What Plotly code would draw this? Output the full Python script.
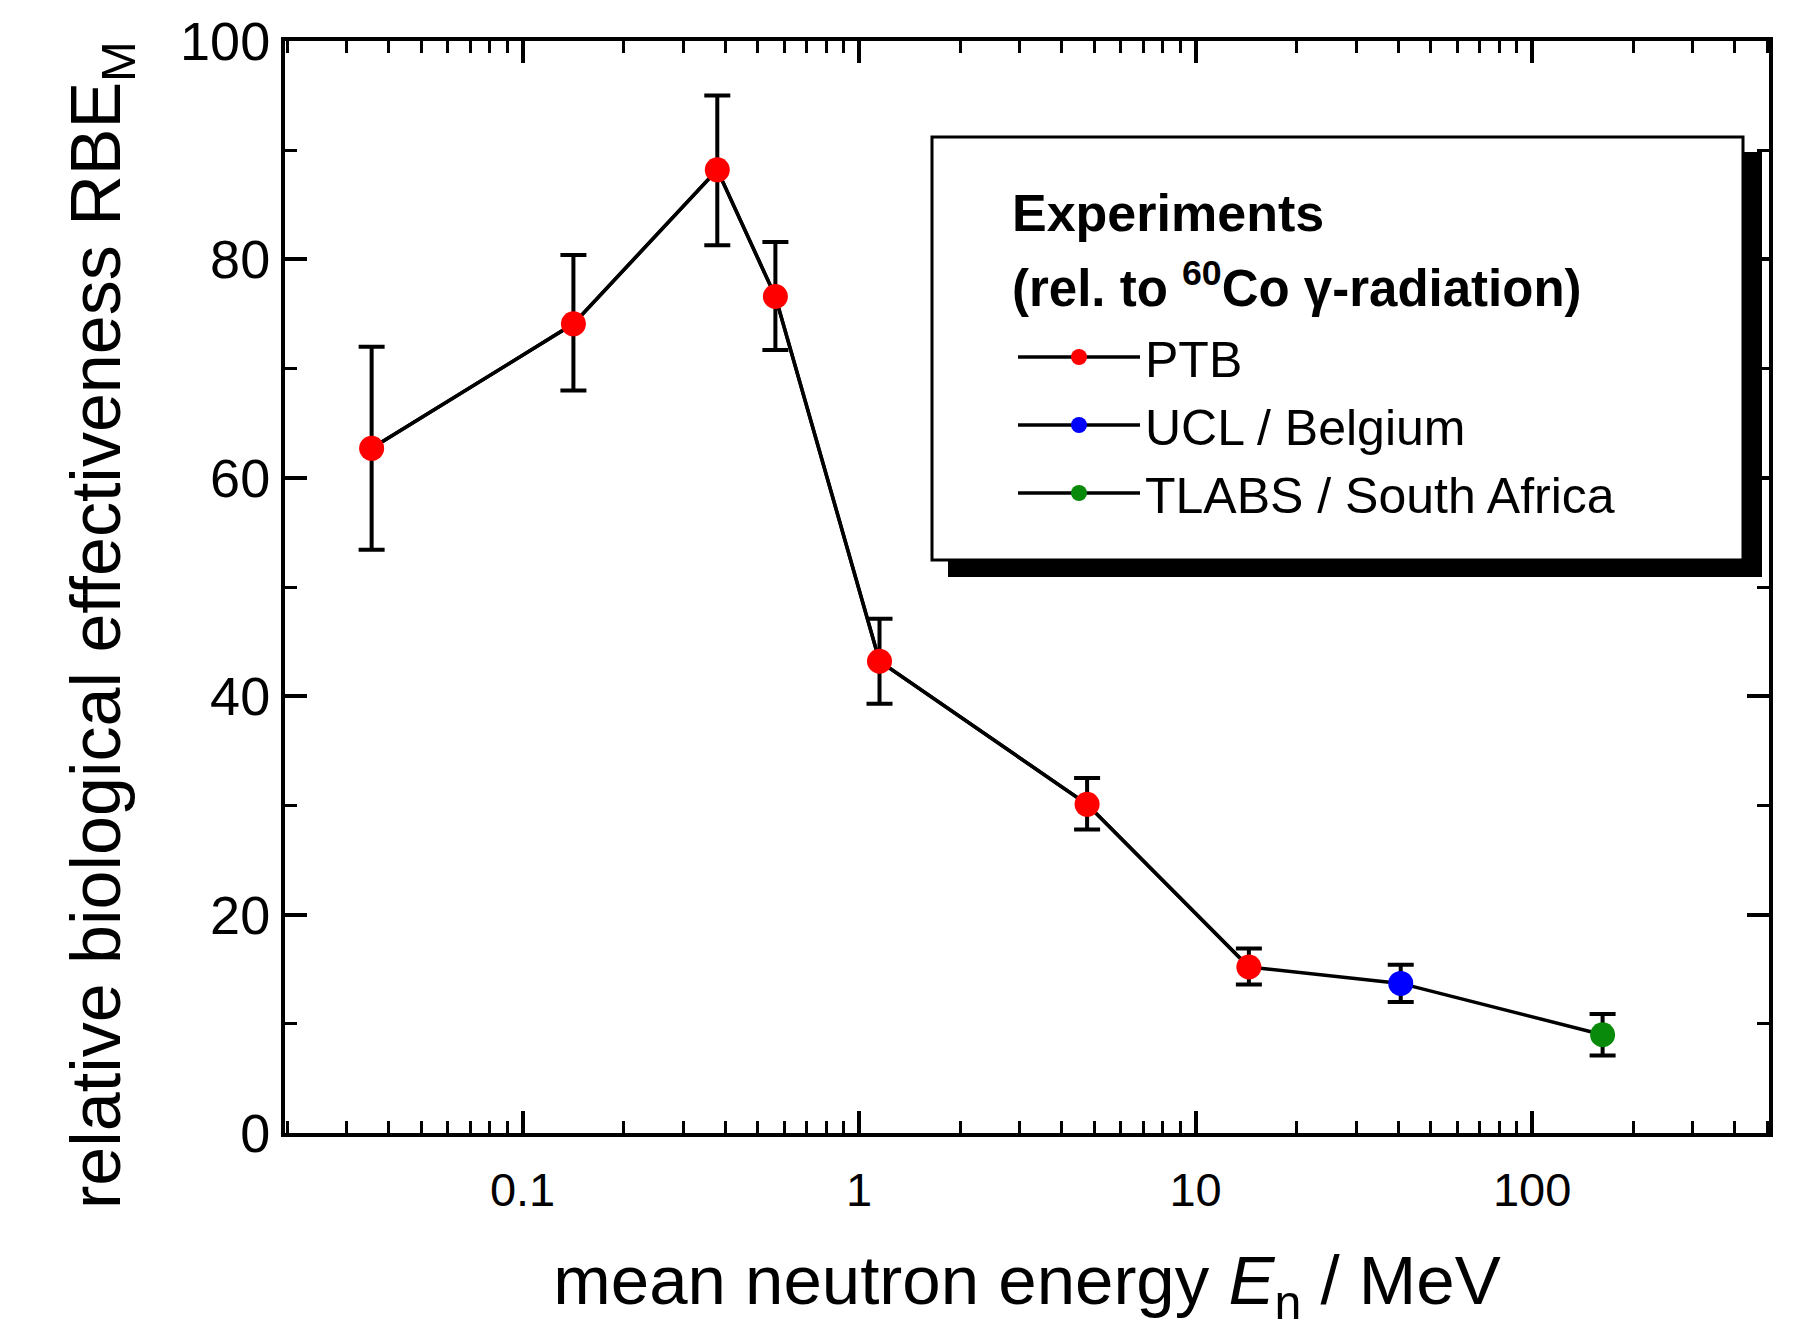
import plotly.graph_objects as go

# ---- data ----
ptb_energy = [0.0356, 0.1416, 0.379, 0.564, 1.15, 4.76, 14.4]
ptb_rbe = [62.7, 74.1, 88.2, 76.6, 43.2, 30.1, 15.2]
ptb_err_plus = [9.3, 6.3, 6.8, 5.0, 3.9, 2.4, 1.7]
ptb_err_minus = [9.3, 6.1, 6.9, 4.9, 3.9, 2.3, 1.6]

ucl_energy = [40.7]
ucl_rbe = [13.7]
ucl_err = [1.7]

tlabs_energy = [162.0]
tlabs_rbe = [9.0]
tlabs_err = [1.9]

series_names = ["PTB", "UCL / Belgium", "TLABS / South Africa"]
series_colors = ["#ff0000", "#0000ff", "#0a8a0a"]

x_tickvals = [0.1, 1, 10, 100]
x_ticktext = ["0.1", "1", "10", "100"]
x_minor = [m * 10 ** e for e in range(-2, 3) for m in range(2, 10)]
y_tickvals = [0, 20, 40, 60, 80, 100]

FONT = "Liberation Sans, Arial, sans-serif"

fig = go.Figure()

# connecting line through all points
all_x = ptb_energy + ucl_energy + tlabs_energy
all_y = ptb_rbe + ucl_rbe + tlabs_rbe
fig.add_trace(go.Scatter(x=all_x, y=all_y, mode="lines",
                         line=dict(color="black", width=3.5),
                         showlegend=False, hoverinfo="skip"))

def add_series(x, y, ep, em, name, color):
    fig.add_trace(go.Scatter(
        x=x, y=y, mode="lines+markers", name=name,
        line=dict(color="black", width=3.5),
        marker=dict(color=color, size=25, line=dict(width=0)),
        error_y=dict(type="data", array=ep, arrayminus=em, symmetric=False,
                     color="black", thickness=4, width=13),
    ))

add_series(ptb_energy, ptb_rbe, ptb_err_plus, ptb_err_minus, series_names[0], series_colors[0])
add_series(ucl_energy, ucl_rbe, ucl_err, ucl_err, series_names[1], series_colors[1])
add_series(tlabs_energy, tlabs_rbe, tlabs_err, tlabs_err, series_names[2], series_colors[2])

W, H = 1809, 1321
L, R, T, B = 277, 48, 33, 196
# plot area on screen (page body offset of 8 px)
SX0, SX1, SY0, SY1 = 285, 1769, 41, 1133
pw, ph = SX1 - SX0, SY1 - SY0

def px(sx):
    return (sx - SX0) / pw

def py(sy):
    return (SY1 - sy) / ph

shapes = [
    # shadow
    dict(type="rect", xref="paper", yref="paper",
         x0=px(948), x1=px(1762), y0=py(577), y1=py(152),
         fillcolor="black", line=dict(color="black", width=0), layer="above"),
    # box
    dict(type="rect", xref="paper", yref="paper",
         x0=px(932), x1=px(1743), y0=py(560), y1=py(137),
         fillcolor="white", line=dict(color="black", width=3), layer="above"),
]

annotations = [
    dict(text="<b>Experiments</b>", xref="paper", yref="paper",
         x=px(1010), y=py(213), xanchor="left", yanchor="middle",
         showarrow=False, font=dict(family=FONT, size=52, color="black")),
    dict(text="<b>(rel. to <sup>60</sup>Co γ-radiation)</b>", xref="paper", yref="paper",
         x=px(1010), y=py(285), xanchor="left", yanchor="middle",
         showarrow=False, font=dict(family=FONT, size=51, color="black")),
    dict(text="relative biological effectiveness RBE<sub>M</sub>", xref="paper", yref="paper",
         x=px(101), y=py(625), xanchor="center", yanchor="middle", textangle=-90,
         showarrow=False, font=dict(family=FONT, size=70, color="black")),
]

axis_common = dict(
    showline=True, linecolor="black", linewidth=4, mirror="ticks",
    ticks="inside", ticklen=22, tickwidth=3.5, tickcolor="black",
    showgrid=False, zeroline=False,
)

fig.update_layout(
    width=W, height=H,
    margin=dict(l=L, r=R, t=T, b=B),
    paper_bgcolor="white", plot_bgcolor="white",
    font=dict(family=FONT, color="black"),
    showlegend=True,
    legend=dict(x=px(1013), y=py(318), xanchor="left", yanchor="top",
                bgcolor="rgba(0,0,0,0)", borderwidth=0,
                font=dict(family=FONT, size=50, color="black"),
                itemwidth=122, tracegroupgap=0),
    shapes=shapes,
    annotations=annotations,
    xaxis=dict(
        type="log", range=[-1.706, 2.704],
        tickvals=x_tickvals, ticktext=x_ticktext,
        tickfont=dict(family=FONT, size=47),
        ticklabelstandoff=13,
        minor=dict(tickvals=x_minor, ticks="inside", ticklen=12, tickwidth=3, tickcolor="black"),
        title=dict(text="mean neutron energy <i>E</i><sub>n</sub> / MeV",
                   font=dict(family=FONT, size=69), standoff=43),
        **axis_common,
    ),
    yaxis=dict(
        range=[0, 100], tickvals=y_tickvals, automargin=False,
        tickfont=dict(family=FONT, size=54),
        minor=dict(dtick=10, ticks="inside", ticklen=12, tickwidth=3, tickcolor="black"),
        **axis_common,
    ),
)

fig.write_html("out.html")
